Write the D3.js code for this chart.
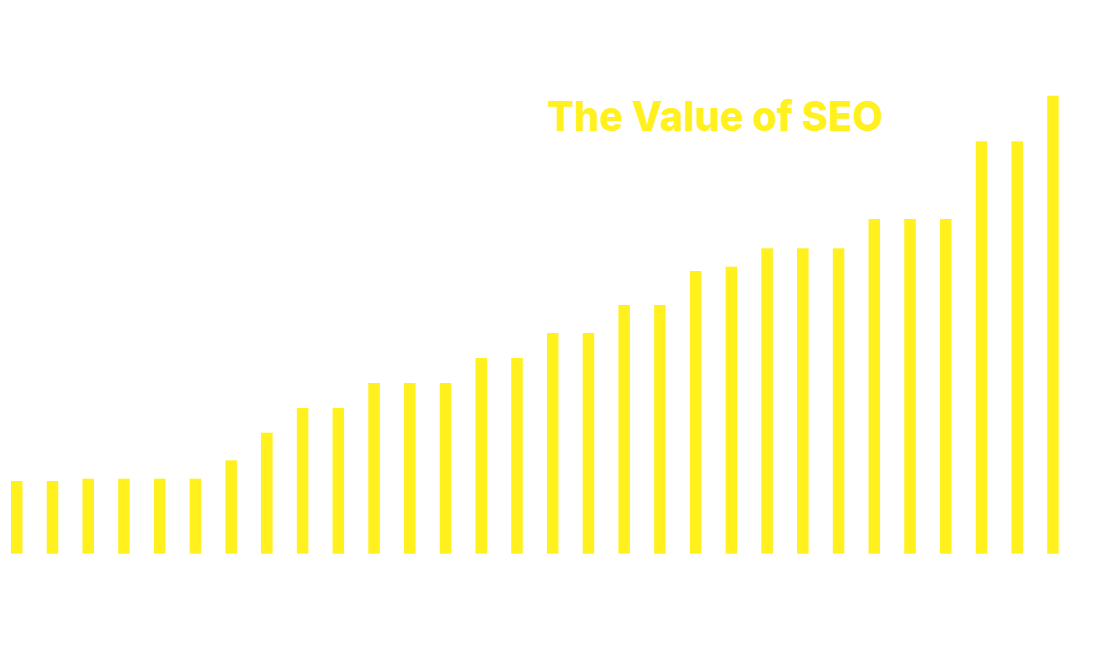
<!DOCTYPE html>
<html>
<head>
<meta charset="utf-8">
<script src="https://cdn.jsdelivr.net/npm/d3@7"></script>
<style>
  html, body { margin: 0; padding: 0; background: #ffffff; }
  svg { display: block; }
</style>
</head>
<body>
<div id="chart"></div>
<script>
const categories = d3.range(1, 31).map(d => "P" + d);
const values = [72.7, 72.7, 75, 75, 75, 75, 93.4, 121, 145.7, 145.7,
                170.7, 170.7, 170.7, 195.7, 195.7, 220.7, 220.7, 248.7, 248.7, 282.7,
                287, 305.4, 305.4, 305.4, 334.7, 334.7, 334.7, 412.4, 412.4, 458];
const title = "The Value of SEO";

const W = 1106, H = 650;
const svg = d3.select("#chart").append("svg").attr("width", W).attr("height", H);
svg.append("rect").attr("width", W).attr("height", H).attr("fill", "#ffffff");

const x = d3.scaleBand().domain(categories).range([11, 1058.7]).paddingInner(0.678).paddingOuter(0);
const y = d3.scaleLinear().domain([0, 458]).range([553.7, 95.7]);

const color = "#FFF01E";

svg.append("g").selectAll("rect").data(values).join("rect")
  .attr("x", (d, i) => x(categories[i]))
  .attr("y", d => y(d))
  .attr("width", x.bandwidth())
  .attr("height", d => y(0) - y(d))
  .attr("fill", color);

svg.append("text")
  .attr("x", 547).attr("y", 130.5)
  .attr("font-family", "Inter, 'Noto Sans', sans-serif")
  .attr("font-weight", 800)
  .attr("font-size", 41)
  .attr("fill", color)
  .attr("textLength", 336)
  .attr("lengthAdjust", "spacingAndGlyphs")
  .text(title);
</script>
</body>
</html>
